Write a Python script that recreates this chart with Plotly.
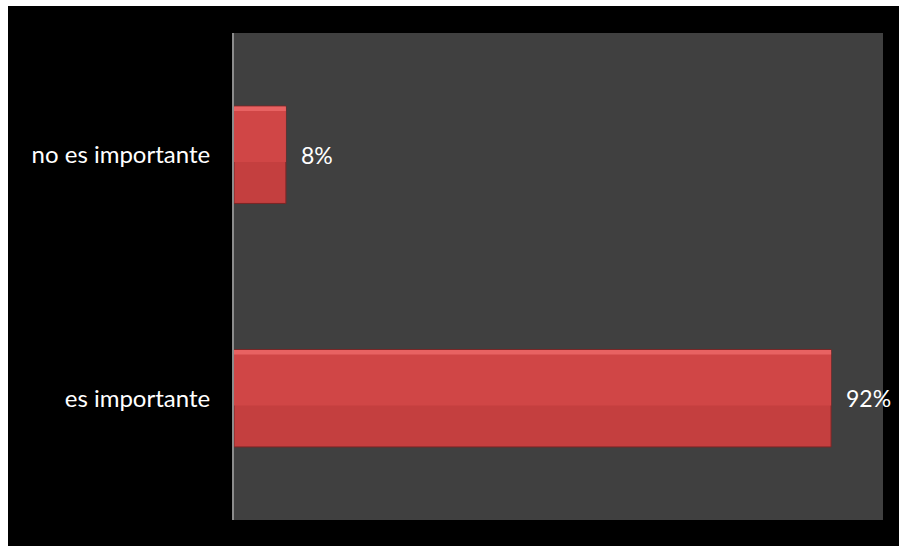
import plotly.graph_objects as go

categories = ["es importante", "no es importante"]
values = [0.92, 0.08]
value_labels = ["92%", "8%"]

# figure placed at (8, 6) in the page and filling the rest of the window
W, H = 891, 540
L, R, T, B = 226, 16, 27, 26

FONT = "Lato, 'Open Sans', sans-serif"

fig = go.Figure()
# main bar body
fig.add_trace(go.Bar(
    y=categories, x=values, orientation="h", width=0.4,
    marker=dict(color="#c43f3f", line=dict(color="#7a2626", width=1)),
    hoverinfo="skip", cliponaxis=False,
))
# lighter upper part for a bevelled look (same data)
fig.add_trace(go.Bar(
    y=categories, x=values, orientation="h", width=0.22, offset=-0.03,
    marker=dict(color="#d04646", line=dict(width=0)),
    hoverinfo="skip",
))
# highlight at top edge
fig.add_trace(go.Bar(
    y=categories, x=values, orientation="h", width=0.018, offset=0.18,
    marker=dict(color="#e86262", line=dict(width=0)),
    hoverinfo="skip",
))

annotations = []
for c, v, lab in zip(categories, values, value_labels):
    annotations.append(dict(
        x=v, y=c, xref="x", yref="y", text=lab, showarrow=False,
        xanchor="left", yanchor="middle", xshift=13,
        font=dict(color="white", size=23, family=FONT),
    ))

fig.update_layout(
    width=W, height=H,
    margin=dict(l=L, r=R, t=T, b=B, pad=0),
    paper_bgcolor="black",
    plot_bgcolor="#404040",
    showlegend=False,
    annotations=annotations,
    barmode="overlay",
    xaxis=dict(range=[0, 1], visible=False, showgrid=False, zeroline=False, fixedrange=True),
    yaxis=dict(
        showline=True, linecolor="#8c8c8c", linewidth=2,
        showgrid=False, zeroline=False, ticks="",
        ticklabelstandoff=17,
        tickfont=dict(color="white", size=24, family=FONT),
        fixedrange=True,
    ),
)

post = (
    "document.body.style.margin='6px 0 0 8px';"
    "document.body.style.overflow='hidden';"
    "document.documentElement.style.overflow='hidden';"
)
fig.write_html("out.html", post_script=post)
